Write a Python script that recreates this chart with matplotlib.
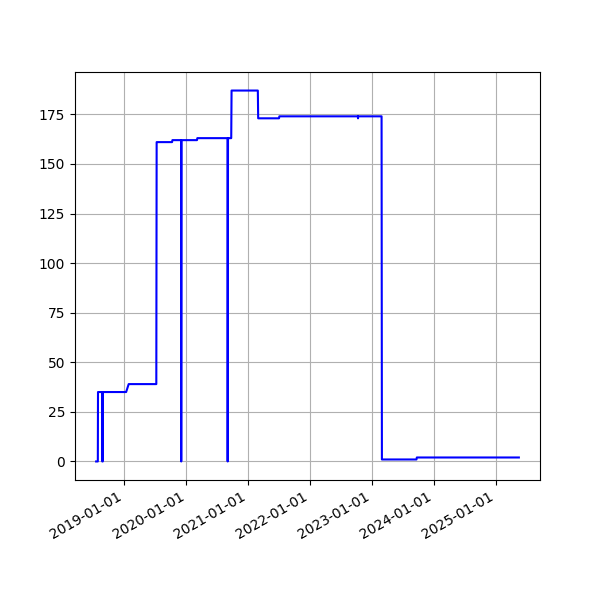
import pandas as pd
import matplotlib
matplotlib.use("Agg")
import matplotlib.pyplot as plt
import matplotlib.dates as mdates

# fechas y valores
fechas = [
    "2018-07-18", "2018-07-28", "2018-07-29", "2018-08-22", "2018-08-23",
    "2018-08-26", "2018-08-27", "2019-01-11", "2019-01-26", "2019-07-08",
    "2019-07-10", "2019-10-09", "2019-10-11", "2019-12-01", "2019-12-02",
    "2019-12-04", "2020-03-04", "2020-03-06", "2020-08-31", "2020-09-01",
    "2020-09-03", "2020-09-22", "2020-09-24", "2021-02-26", "2021-02-28",
    "2021-07-01", "2021-07-03", "2022-10-09", "2022-10-10", "2022-10-11",
    "2023-02-26", "2023-02-28", "2023-09-20", "2023-09-22", "2025-05-16",
]
valores = [
    0, 0, 35, 35, 0,
    0, 35, 35, 39, 39,
    161, 161, 162, 162, 0,
    162, 162, 163, 163, 0,
    163, 163, 187, 187, 173,
    173, 174, 174, 173, 174,
    174, 1, 1, 2, 2,
]

fechas = pd.to_datetime(fechas)

fig, ax = plt.subplots(figsize=(6, 6), dpi=100)
ax.plot(fechas, valores, color="blue")
ax.grid(True)
ax.xaxis.set_major_locator(mdates.YearLocator())
ax.xaxis.set_major_formatter(mdates.DateFormatter("%Y-%m-%d"))
fig.autofmt_xdate()
fig.savefig("out.png")
